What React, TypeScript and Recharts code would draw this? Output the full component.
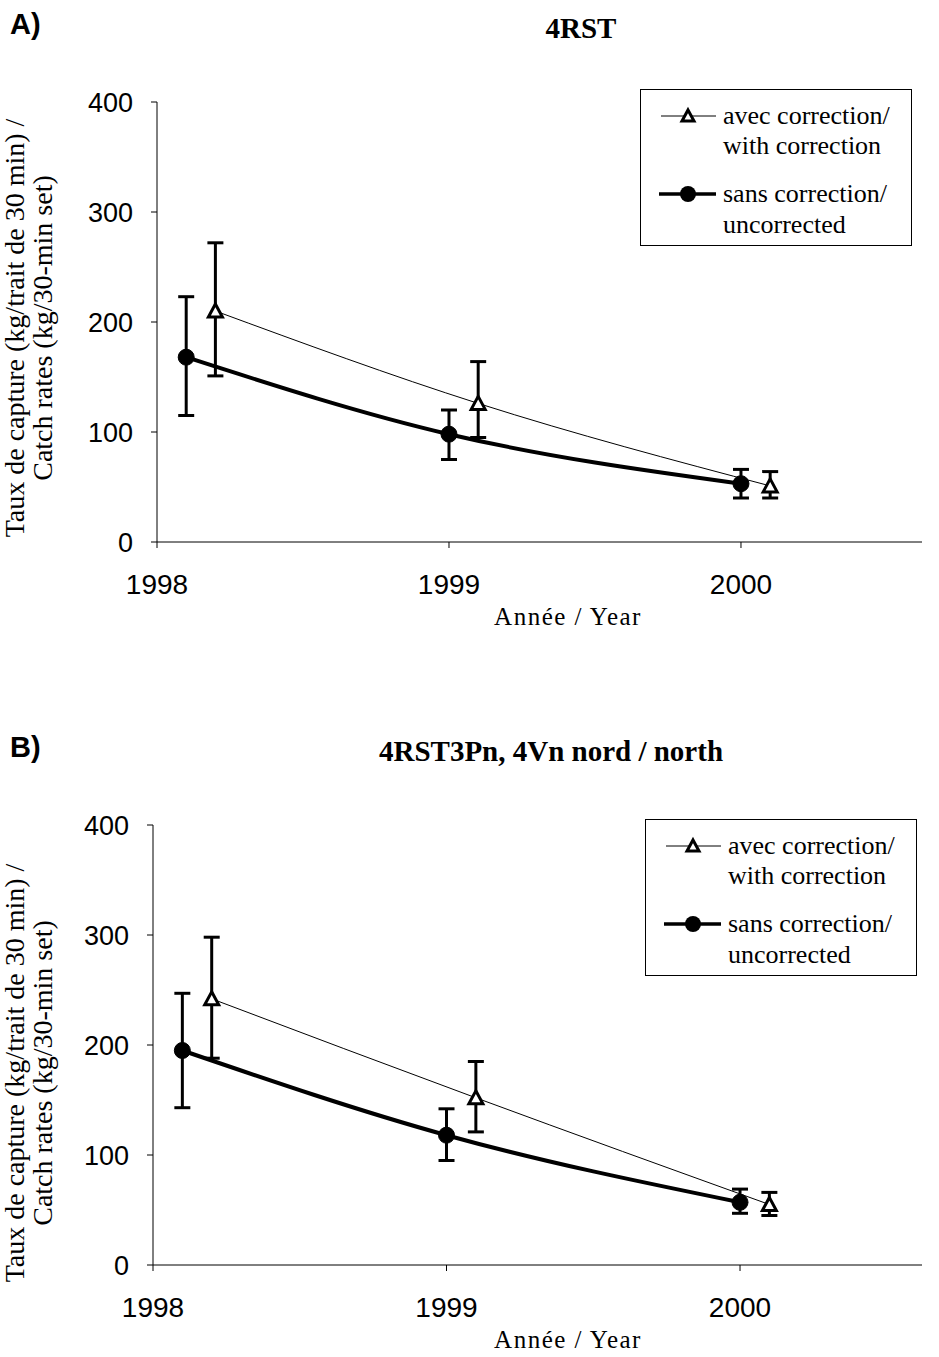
import React from "react";
import { ErrorBar, Line, LineChart, XAxis, YAxis } from "recharts";

// sampling years (the corrected series is plotted slightly to the right)
const uncorrectedYears = [1998.1, 1999.0, 2000.0];
const correctedYears = [1998.2, 1999.1, 2000.1];

// A) 4RST
const uncorrectedA = [168, 98, 53];
const uncorrectedLowA = [115, 75, 40];
const uncorrectedHighA = [223, 120, 66];
const correctedA = [210, 126, 51];
const correctedLowA = [151, 95, 40];
const correctedHighA = [272, 164, 64];

// B) 4RST3Pn, 4Vn nord / north
const uncorrectedB = [195, 118, 57];
const uncorrectedLowB = [143, 95, 47];
const uncorrectedHighB = [247, 142, 69];
const correctedB = [242, 152, 55];
const correctedLowB = [188, 121, 45];
const correctedHighB = [298, 185, 66];

const xTicks = [1998, 1999, 2000];
const yTicks = [0, 100, 200, 300, 400];

const SANS = "'Liberation Sans', Arial, sans-serif";
const SERIF = "'Liberation Serif', 'Times New Roman', serif";

type Pt = { x: number; y: number; err: [number, number] };

function toPoints(xs: number[], ys: number[], lo: number[], hi: number[]): Pt[] {
  return xs.map((x, i) => ({ x, y: ys[i], err: [ys[i] - lo[i], hi[i] - ys[i]] }));
}

function TriangleDot(props: any) {
  const { cx, cy } = props;
  if (cx == null || cy == null) return null;
  return (
    <path
      d={`M${cx},${cy - 7} L${cx + 7},${cy + 6} L${cx - 7},${cy + 6} Z`}
      fill="#fff"
      stroke="#000"
      strokeWidth={3}
    />
  );
}

function LegendBox({ left, top }: { left: number; top: number }) {
  const text: React.CSSProperties = {
    position: "absolute",
    left: 82,
    fontFamily: SERIF,
    fontSize: 26,
    lineHeight: "30px",
    whiteSpace: "nowrap",
    color: "#000",
  };
  return (
    <div
      style={{
        position: "absolute",
        left,
        top,
        width: 272,
        height: 157,
        border: "1px solid #000",
        background: "#fff",
        boxSizing: "border-box",
      }}
    >
      <svg style={{ position: "absolute", left: 0, top: 0 }} width={80} height={157}>
        <line x1={20} x2={75} y1={26} y2={26} stroke="#000" strokeWidth={1} />
        <path d="M47,20 L53,31 L41,31 Z" fill="#fff" stroke="#000" strokeWidth={3} />
        <line x1={18} x2={75} y1={104} y2={104} stroke="#000" strokeWidth={3.5} />
        <circle cx={47} cy={104} r={8} fill="#000" />
      </svg>
      <div style={{ ...text, top: 11 }}>avec correction/</div>
      <div style={{ ...text, top: 41 }}>with correction</div>
      <div style={{ ...text, top: 89 }}>sans correction/</div>
      <div style={{ ...text, top: 120 }}>uncorrected</div>
    </div>
  );
}

type PanelProps = {
  top: number;
  plotLeft: number;
  tag: string;
  title: string;
  titleCenter: number;
  yTitleCenter: number;
  legendLeft: number;
  legendTop: number;
  uncorrected: Pt[];
  corrected: Pt[];
};

function Panel(p: PanelProps) {
  const W = 939;
  const H = 650;
  return (
    <div style={{ position: "absolute", left: 0, top: p.top, width: W, height: H }}>
      <div
        style={{
          position: "absolute",
          left: 10,
          top: 9,
          fontFamily: SANS,
          fontWeight: "bold",
          fontSize: 29,
          lineHeight: "30px",
        }}
      >
        {p.tag}
      </div>
      <div
        style={{
          position: "absolute",
          left: p.titleCenter - 300,
          width: 600,
          top: 12,
          textAlign: "center",
          fontFamily: SERIF,
          fontWeight: "bold",
          fontSize: 29,
          lineHeight: "32px",
        }}
      >
        {p.title}
      </div>
      <div
        style={{
          position: "absolute",
          left: 31 - 250,
          top: p.yTitleCenter - 30,
          width: 500,
          height: 60,
          transform: "rotate(-90deg)",
          textAlign: "center",
          fontFamily: SERIF,
          fontSize: 28,
          lineHeight: "28px",
          whiteSpace: "nowrap",
        }}
      >
        Taux de capture (kg/trait de 30 min) /
        <br />
        Catch rates (kg/30-min set)
      </div>
      <div
        style={{
          position: "absolute",
          left: 568 - 150,
          width: 300,
          top: 603,
          textAlign: "center",
          fontFamily: SERIF,
          fontSize: 25,
          letterSpacing: 1.5,
          lineHeight: "28px",
        }}
      >
        Année / Year
      </div>
      <LineChart
        width={W}
        height={H}
        margin={{ top: 102, right: 17, bottom: 48, left: p.plotLeft - 60 }}
        style={{ position: "absolute", left: 0, top: 0 }}
      >
        <XAxis
          type="number"
          dataKey="x"
          domain={[1998, 2000.62]}
          allowDataOverflow
          ticks={xTicks}
          height={60}
          stroke="#000"
          tickSize={6}
          tickMargin={26}
          tick={{ fill: "#000", fontFamily: SANS, fontSize: 28 }}
        />
        <YAxis
          type="number"
          domain={[0, 400]}
          allowDataOverflow
          ticks={yTicks}
          width={60}
          stroke="#000"
          tickSize={6}
          tickMargin={18}
          tick={{ fill: "#000", fontFamily: SANS, fontSize: 27 }}
        />
        <Line
          data={p.corrected}
          dataKey="y"
          type="monotone"
          stroke="#000"
          strokeWidth={1}
          dot={<TriangleDot />}
          isAnimationActive={false}
        >
          <ErrorBar dataKey="err" direction="y" width={8} stroke="#000" strokeWidth={3} />
        </Line>
        <Line
          data={p.uncorrected}
          dataKey="y"
          type="monotone"
          stroke="#000"
          strokeWidth={4}
          dot={{ r: 8, fill: "#000", stroke: "#000", strokeWidth: 1 }}
          isAnimationActive={false}
        >
          <ErrorBar dataKey="err" direction="y" width={8} stroke="#000" strokeWidth={3} />
        </Line>
      </LineChart>
      <LegendBox left={p.legendLeft} top={p.legendTop} />
    </div>
  );
}

export default function App() {
  return (
    <div
      style={{
        position: "absolute",
        left: 0,
        top: 0,
        width: 939,
        height: 1357,
        background: "#fff",
      }}
    >
      <Panel
        top={0}
        plotLeft={157}
        tag="A)"
        title="4RST"
        titleCenter={581}
        yTitleCenter={328}
        legendLeft={640}
        legendTop={89}
        uncorrected={toPoints(uncorrectedYears, uncorrectedA, uncorrectedLowA, uncorrectedHighA)}
        corrected={toPoints(correctedYears, correctedA, correctedLowA, correctedHighA)}
      />
      <Panel
        top={723}
        plotLeft={153}
        tag="B)"
        title="4RST3Pn, 4Vn nord / north"
        titleCenter={551}
        yTitleCenter={350}
        legendLeft={645}
        legendTop={96}
        uncorrected={toPoints(uncorrectedYears, uncorrectedB, uncorrectedLowB, uncorrectedHighB)}
        corrected={toPoints(correctedYears, correctedB, correctedLowB, correctedHighB)}
      />
    </div>
  );
}
